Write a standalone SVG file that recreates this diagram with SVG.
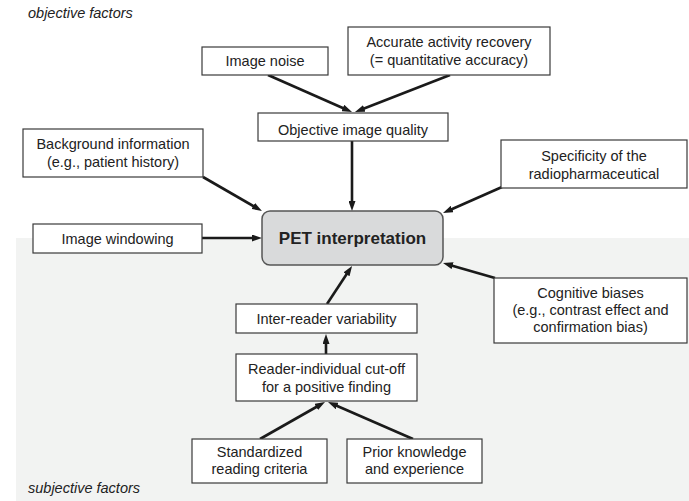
<svg xmlns="http://www.w3.org/2000/svg" width="689" height="501" viewBox="0 0 689 501">
<defs>
<marker id="ah" markerUnits="userSpaceOnUse" markerWidth="10" markerHeight="7" refX="3" refY="3.5" orient="auto">
<path d="M0,0 L10,3.5 L0,7 z" fill="#1a1a1a"/>
</marker>
<style>
.box{fill:#fff;stroke:#3a3a3a;stroke-width:1.2}
.t{font-family:"Liberation Sans",Arial,sans-serif;font-size:14.5px;fill:#222;text-anchor:middle}
.lab{font-family:"Liberation Sans",Arial,sans-serif;font-size:14.5px;font-style:italic;fill:#222}
.c{stroke:#1a1a1a;stroke-width:2.6;fill:none;marker-end:url(#ah)}
</style>
</defs>
<rect x="0" y="0" width="689" height="501" fill="#fff"/>
<rect x="16" y="238" width="673" height="263" fill="#f2f3f2"/>
<text class="lab" x="28" y="18">objective factors</text>
<text class="lab" x="28" y="493">subjective factors</text>

<g id="connectors">
<line class="c" x1="268" y1="75" x2="345.6" y2="109.2"/>
<line class="c" x1="450" y1="75" x2="361.5" y2="109.5"/>
<line class="c" x1="352" y1="141" x2="352" y2="204"/>
<line class="c" x1="203" y1="177" x2="255.9" y2="207.5"/>
<line class="c" x1="202" y1="238" x2="255" y2="238"/>
<line class="c" x1="502" y1="187" x2="449.4" y2="210.2"/>
<line class="c" x1="495" y1="278" x2="449.7" y2="264.9"/>
<line class="c" x1="327" y1="304" x2="348.2" y2="271.8"/>
<line class="c" x1="326" y1="354" x2="326" y2="341"/>
<line class="c" x1="260" y1="439" x2="318.9" y2="405.5"/>
<line class="c" x1="413" y1="439" x2="334.4" y2="404.8"/>
</g>

<g id="image-noise">
<rect class="box" x="202" y="47" width="126" height="28"/>
<text class="t" x="265" y="66">Image noise</text>
</g>
<g id="accurate-activity">
<rect class="box" x="348" y="27" width="202" height="48"/>
<text class="t" x="449" y="47">Accurate activity recovery</text>
<text class="t" x="449" y="65">(= quantitative accuracy)</text>
</g>
<g id="objective-quality">
<rect class="box" x="258" y="113" width="190" height="28"/>
<text class="t" x="353" y="135">Objective image quality</text>
</g>
<g id="background-info">
<rect class="box" x="23" y="129" width="180" height="48"/>
<text class="t" x="113" y="149">Background information</text>
<text class="t" x="113" y="167">(e.g., patient history)</text>
</g>
<g id="specificity">
<rect class="box" x="501" y="140" width="186" height="48"/>
<text class="t" x="594" y="161">Specificity of the</text>
<text class="t" x="594" y="179">radiopharmaceutical</text>
</g>
<g id="image-windowing">
<rect class="box" x="33" y="224" width="169" height="29"/>
<text class="t" x="117.5" y="244">Image windowing</text>
</g>
<g id="pet">
<rect x="262" y="211" width="181" height="54" rx="8" ry="8" fill="#d9dadb" stroke="#555" stroke-width="1.5"/>
<text x="352.5" y="244" font-family="'Liberation Sans',Arial,sans-serif" font-size="17" font-weight="bold" fill="#222" text-anchor="middle">PET interpretation</text>
</g>
<g id="cognitive">
<rect class="box" x="494" y="278" width="193" height="65"/>
<text class="t" x="590.5" y="298">Cognitive biases</text>
<text class="t" x="590.5" y="315">(e.g., contrast effect and</text>
<text class="t" x="590.5" y="332">confirmation bias)</text>
</g>
<g id="inter-reader">
<rect class="box" x="236" y="304" width="181" height="29"/>
<text class="t" x="326.5" y="324">Inter-reader variability</text>
</g>
<g id="reader-cutoff">
<rect class="box" x="236" y="354" width="181" height="47"/>
<text class="t" x="326.5" y="374">Reader-individual cut-off</text>
<text class="t" x="326.5" y="392">for a positive finding</text>
</g>
<g id="standardized">
<rect class="box" x="192" y="439" width="135" height="44"/>
<text class="t" x="259.5" y="457">Standardized</text>
<text class="t" x="259.5" y="474">reading criteria</text>
</g>
<g id="prior">
<rect class="box" x="347" y="439" width="135" height="44"/>
<text class="t" x="414.5" y="457">Prior knowledge</text>
<text class="t" x="414.5" y="474">and experience</text>
</g>
</svg>
